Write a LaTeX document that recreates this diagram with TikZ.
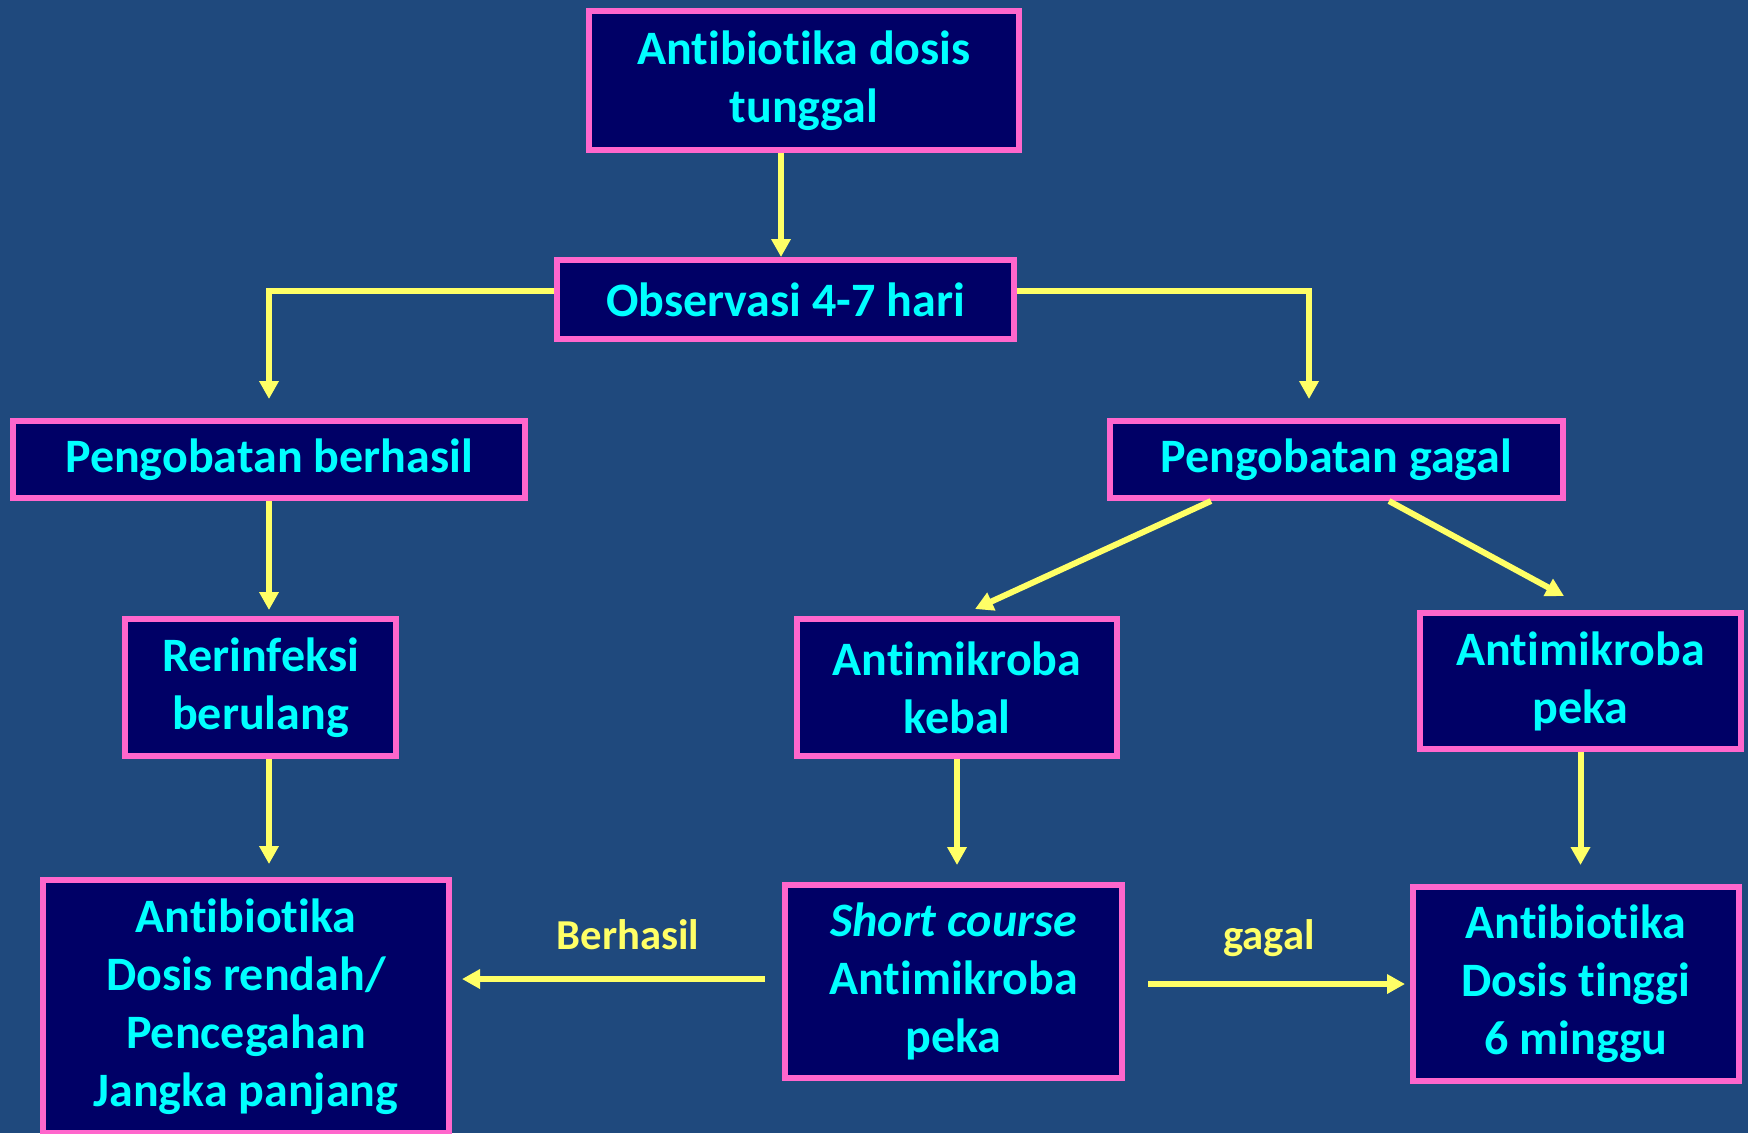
\documentclass[tikz,border=0pt]{standalone}
\usepackage{fontspec}
\setmainfont{Carlito}[Ligatures=CommonOff]
\usetikzlibrary{arrows.meta,calc}

\definecolor{slidebg}{RGB}{31,73,125}
\definecolor{boxfill}{RGB}{0,0,102}
\definecolor{boxline}{RGB}{255,102,204}
\definecolor{boxtext}{RGB}{0,255,255}
\definecolor{arrowyellow}{RGB}{255,255,102}

\tikzset{every picture/.style={line width=0.75pt}}
\tikzset{
  stepbox/.style={draw=boxline, line width=4.5pt, fill=boxfill, text=boxtext, align=center, inner sep=0pt, font=\bfseries\fontsize{36}{43.5}\selectfont},
  flowarrow/.style={draw=arrowyellow, line width=4.5pt, -{Triangle[width=14pt,length=13.5pt]}},
  flowlabel/.style={text=arrowyellow, inner sep=0.75pt, font=\bfseries\fontsize{32}{38}\selectfont}
}

\begin{document}
\begin{tikzpicture}[x=0.75pt,y=0.75pt,yscale=-1,xscale=1]
%set diagram area: 1748 x 1133
\path[use as bounding box, fill=slidebg] (0,0) rectangle (1748,1133);
\clip (0,0) rectangle (1748,1133);

% Boxes
\node[stepbox, minimum width=322.5pt, minimum height=104.25pt] (dosis) at (804,80.5) {Antibiotika dosis\\tunggal};
\node[stepbox, minimum width=342.75pt, minimum height=59.25pt] (observasi) at (785.5,299.5) {Observasi 4-7 hari};
\node[stepbox, minimum width=384pt, minimum height=57.75pt] (berhasil) at (269,459.5) {Pengobatan berhasil};
\node[stepbox, minimum width=339.75pt, minimum height=57.75pt] (gagal) at (1336.5,459.5) {Pengobatan gagal};
\node[stepbox, minimum width=203.25pt, minimum height=102.75pt] (reinfeksi) at (260.5,687.5) {Rerinfeksi\\berulang};
\node[stepbox, minimum width=240pt, minimum height=102.75pt] (kebal) at (957,687.5) {Antimikroba\\kebal};
\node[stepbox, minimum width=240.75pt, minimum height=102pt] (peka) at (1580.5,681) {Antimikroba\\peka};
\node[stepbox, minimum width=304.5pt, minimum height=189.75pt] (jangka) at (246,1006.5) {Antibiotika\\Dosis rendah/\\Pencegahan\\Jangka panjang};
\node[stepbox, minimum width=252.75pt, minimum height=144.75pt] (shortcourse) at (953.5,981.5) {\textit{Short course}\\Antimikroba\\peka};
\node[stepbox, minimum width=244.5pt, minimum height=145.5pt] (tinggi) at (1576,984) {Antibiotika\\Dosis tinggi\\6 minggu};

% Labels
\node[flowlabel, anchor=base] (lblberhasil) at (628,949) {Berhasil};
\node[flowlabel, anchor=base] (lblgagal) at (1269,949) {gagal};

% Arrows
\draw[flowarrow] ($(dosis.south)+(-23,0)$) -- ($(observasi.north)+(-4.5,0)$);
\draw[flowarrow] ($(observasi.west)+(0,-8.5)$) -| ($(berhasil.north)+(0,-19)$);
\draw[flowarrow] ($(observasi.east)+(0,-8.5)$) -| ($(gagal.north)+(-27.5,-19)$);
\draw[flowarrow] (berhasil.south) -- ($(berhasil.south |- reinfeksi.north)+(0,-6)$);
\draw[flowarrow] (berhasil.south |- reinfeksi.south) -- ($(berhasil.south |- jangka.north)+(0,-13)$);
\draw[flowarrow] ($(gagal.south)+(-125.5,0)$) -- ($(kebal.north)+(18,-7)$);
\draw[flowarrow] ($(gagal.south)+(52.5,0)$) -- ($(peka.north)+(-16.5,-14)$);
\draw[flowarrow] (kebal.south) -- ($(kebal.south |- shortcourse.north)+(0,-17)$);
\draw[flowarrow] (peka.south) -- ($(peka.south |- tinggi.north)+(0,-19)$);
\draw[flowarrow] ($(shortcourse.west)+(-17,-2.5)$) -- ($(jangka.east |- shortcourse.west)+(10,-2.5)$);
\draw[flowarrow] ($(shortcourse.east)+(23,2.5)$) -- ($(tinggi.west)+(-5,0)$);

\end{tikzpicture}
\end{document}
